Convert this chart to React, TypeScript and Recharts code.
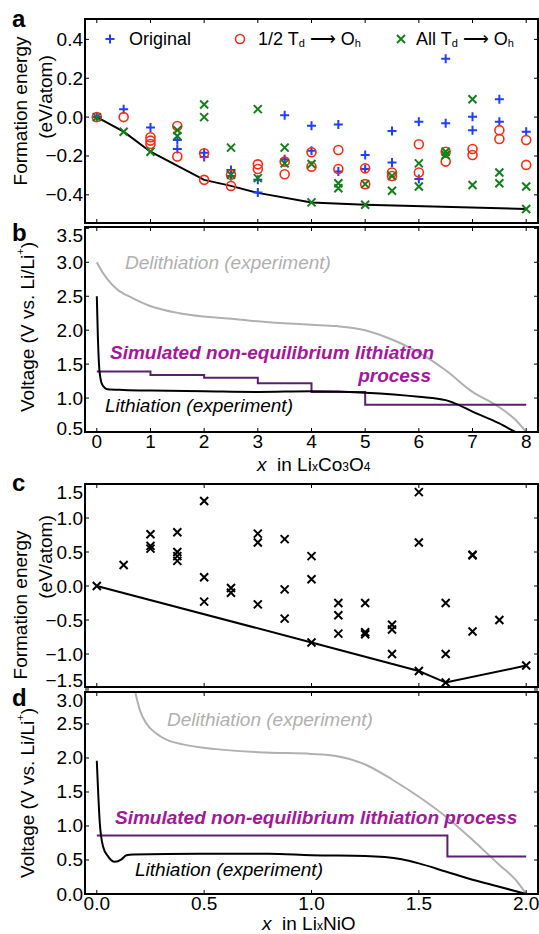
import { ComposedChart, Line, Scatter, XAxis, YAxis } from 'recharts';

const FONT = '"Liberation Sans", Arial, Helvetica, sans-serif';
const W = 539;
const PLOT_L = 85;
const PLOT_R = 538;
const PAD_T = 12;
const FS = 19;

const BLUE = '#1f3fff';
const RED = '#ff2a10';
const GREEN = '#12801a';
const GRAY = '#b0b0b0';
const PURPLE_LINE = '#5c1f6e';
const PURPLE_TEXT = '#a3179c';

// ---- panel a: formation energy vs x in LixCo3O4 ----
const CO_X = [0, 0.5, 1, 1.5, 2, 2.5, 3, 3.5, 4, 4.5, 5, 5.5, 6, 6.5, 7, 7.5, 8];
const ORIGINAL = [
  [0], [0.04], [-0.053], [-0.118, -0.164], [-0.183, -0.205], [-0.272, -0.303],
  [-0.323, -0.388], [0.01, -0.217], [-0.044, -0.173], [-0.038, -0.28], [-0.195, -0.267],
  [-0.072, -0.234], [-0.024, -0.318], [0.301, -0.032], [0.002, -0.067], [0.092, -0.024], [-0.075],
];
const HALF_TD_OH = [
  [0], [0.0], [-0.104, -0.121, -0.138], [-0.046, -0.203], [-0.186, -0.323], [-0.297, -0.354],
  [-0.243, -0.267], [-0.229, -0.294], [-0.181, -0.255], [-0.169, -0.267], [-0.263, -0.345],
  [-0.285, -0.303], [-0.14, -0.285], [-0.178, -0.229], [-0.164, -0.195], [-0.067, -0.113], [-0.118, -0.246],
];
const ALL_TD_OH = [
  [0], [-0.075], [-0.178], [-0.067, -0.097], [0.065, 0.0], [-0.157, -0.297],
  [0.041, -0.314], [-0.157, -0.238], [-0.241, -0.439], [-0.34, -0.366], [-0.345, -0.451],
  [-0.303, -0.379], [-0.238, -0.357], [-0.178, -0.195], [0.092, -0.349], [-0.285, -0.34], [-0.357, -0.473],
];
const HULL_A_X = [0, 0.5, 1, 2, 2.5, 3, 4, 5, 8];
const HULL_A_Y = [0, -0.075, -0.178, -0.323, -0.354, -0.39, -0.439, -0.451, -0.473];

// ---- panel b: voltage profiles, LixCo3O4 ----
const DELITH_B_X = [0, 0.1, 0.2, 0.365, 0.675, 0.98, 1.54, 2.0, 2.6, 3.15, 4.0, 4.46, 5.0, 5.38, 6.0, 6.5, 7.0, 7.43, 7.8, 8.0];
const DELITH_B_Y = [3.0, 2.86, 2.75, 2.61, 2.47, 2.36, 2.25, 2.2, 2.16, 2.12, 2.08, 2.06, 2.0, 1.9, 1.67, 1.41, 1.09, 0.9, 0.68, 0.5];
const LITH_B_X = [0, 0.02, 0.05, 0.1, 0.2, 0.5, 1, 2, 3, 4, 5, 6, 6.5, 6.65, 7, 7.49, 7.8, 7.9];
const LITH_B_Y = [2.5, 1.9, 1.4, 1.2, 1.13, 1.12, 1.11, 1.1, 1.09, 1.1, 1.08, 1.02, 0.97, 0.93, 0.8, 0.63, 0.5, 0.46];
const SIM_B_X = [0, 1, 2, 3, 4, 5, 8];
const SIM_B_Y = [1.39, 1.34, 1.3, 1.22, 1.09, 0.9, 0.9];

// ---- panel c: formation energy vs x in LixNiO ----
const NI_X = [0, 0.125, 0.25, 0.375, 0.5, 0.625, 0.75, 0.875, 1, 1.125, 1.25, 1.375, 1.5, 1.625, 1.75, 1.875, 2];
const NI_E = [
  [0], [0.31], [0.76, 0.59, 0.55], [0.79, 0.5, 0.44, 0.37], [1.25, 0.13, -0.23], [-0.03, -0.1],
  [0.77, 0.64, -0.27], [0.69, -0.05, -0.48], [0.44, 0.1, -0.83], [-0.25, -0.43, -0.7],
  [-0.25, -0.68, -0.71], [-0.57, -0.64, -1.0], [1.38, 0.64, -1.25], [-0.25, -1.0, -1.42],
  [0.46, 0.45, -0.67], [-0.5], [-1.17],
];
const HULL_C_X = [0, 1, 1.5, 1.625, 2];
const HULL_C_Y = [0, -0.83, -1.25, -1.42, -1.17];

// ---- panel d: voltage profiles, LixNiO ----
const DELITH_D_X = [0.165, 0.177, 0.2, 0.23, 0.277, 0.324, 0.4, 0.556, 0.789, 1.0, 1.114, 1.253, 1.377, 1.5, 1.625, 1.752, 1.874, 1.95, 2.0];
const DELITH_D_Y = [3.2, 3.0, 2.71, 2.51, 2.36, 2.27, 2.2, 2.13, 2.08, 2.06, 2.03, 1.9, 1.68, 1.43, 1.14, 0.79, 0.43, 0.21, 0.0];
const LITH_D_X = [0, 0.014, 0.029, 0.053, 0.084, 0.115, 0.138, 0.169, 0.479, 0.8, 1.0, 1.25, 1.42, 1.5, 1.625, 1.75, 1.87, 2.0];
const LITH_D_Y = [1.96, 1.04, 0.7, 0.55, 0.475, 0.51, 0.57, 0.58, 0.59, 0.59, 0.57, 0.56, 0.51, 0.45, 0.33, 0.21, 0.11, 0.0];
const SIM_D_X = [0, 1.633, 2];
const SIM_D_Y = [0.86, 0.55, 0.55];

// ticks
const CO_TICKS = [0, 1, 2, 3, 4, 5, 6, 7, 8];
const NI_TICKS = [0, 0.5, 1, 1.5, 2];
const A_YTICKS = [-0.4, -0.2, 0, 0.2, 0.4];
const B_YTICKS = [0.5, 1, 1.5, 2, 2.5, 3, 3.5];
const C_YTICKS = [-1.5, -1, -0.5, 0, 0.5, 1, 1.5];
const D_YTICKS = [0, 0.5, 1, 1.5, 2, 2.5, 3];

const pts = (xs: number[], groups: number[][]) => xs.flatMap((x, i) => groups[i].map((y) => ({ x, y })));
const series = (xs: number[], ys: number[]) => xs.map((x, i) => ({ x, y: ys[i] }));
const fmt1 = (v: number) => v.toFixed(1).replace('-', '\u2212');
const fmt0 = (v: number) => String(v);

const plusShape = (color: string) => (p: any) => (
  <path d={`M${p.cx - 4.5},${p.cy}h9M${p.cx},${p.cy - 4.5}v9`} stroke={color} strokeWidth={2} fill="none" />
);
const circleShape = (color: string) => (p: any) => (
  <circle cx={p.cx} cy={p.cy} r={4.5} stroke={color} strokeWidth={1.6} fill="none" />
);
const crossShape = (color: string) => (p: any) => (
  <path d={`M${p.cx - 4},${p.cy - 4}l8,8M${p.cx - 4},${p.cy + 4}l8,-8`} stroke={color} strokeWidth={2} fill="none" />
);

type PanelProps = {
  top: number; plotH: number; padB: number; lowShift: number;
  xDomain: number[]; xTicks: number[]; xFmt?: (v: number) => string;
  yDomain: number[]; yTicks: number[];
  children: any;
};

function Panel({ top, plotH, padB, lowShift, xDomain, xTicks, xFmt, yDomain, yTicks, children }: PanelProps) {
  const plotTop = PAD_T;
  const plotBot = PAD_T + plotH;
  const xTick = (p: any) => (
    <g>
      <line x1={p.x} x2={p.x} y1={plotBot} y2={plotBot - 4} stroke="#000" />
      <line x1={p.x} x2={p.x} y1={plotTop} y2={plotTop + 4} stroke="#000" />
      {xFmt && (
        <text x={p.x} y={plotBot + 16} textAnchor="middle" fontSize={FS} fontFamily={FONT} fill="#000">
          {xFmt(p.payload.value)}
        </text>
      )}
    </g>
  );
  const yTick = (p: any) => {
    const ty = Math.min(Math.max(p.y, plotTop + 8), plotBot - lowShift);
    return (
      <g>
        <line x1={PLOT_L} x2={PLOT_L + 4} y1={p.y} y2={p.y} stroke="#000" />
        <line x1={PLOT_R - 4} x2={PLOT_R} y1={p.y} y2={p.y} stroke="#000" />
        <text x={PLOT_L - 2} y={ty} textAnchor="end" dominantBaseline="central" fontSize={FS} fontFamily={FONT} fill="#000">
          {fmt1(p.payload.value)}
        </text>
      </g>
    );
  };
  return (
    <div style={{ position: 'absolute', left: 0, top: top - PAD_T }}>
      <ComposedChart width={W} height={PAD_T + plotH + padB} margin={{ top: PAD_T, right: W - PLOT_R, bottom: 0, left: 0 }}>
        <XAxis type="number" dataKey="x" domain={xDomain} ticks={xTicks} interval={0} allowDataOverflow
          height={padB} axisLine={false} tickLine={false} tick={xTick} />
        <YAxis type="number" dataKey="y" domain={yDomain} ticks={yTicks} interval={0} allowDataOverflow
          width={PLOT_L} axisLine={false} tickLine={false} tick={yTick} />
        {children}
      </ComposedChart>
    </div>
  );
}

const frames = [
  { top: 19, h: 204 },
  { top: 227, h: 205 },
  { top: 484, h: 203 },
  { top: 692, h: 202 },
];

function VoltageLabel({ cx, cy }: { cx: number; cy: number }) {
  return (
    <text transform={`translate(${cx},${cy}) rotate(-90)`} textAnchor="middle" dominantBaseline="central" fontSize={FS}>
      Voltage (V vs. Li/Li<tspan fontSize={11} dy={-7}>+</tspan><tspan dy={7}>)</tspan>
    </text>
  );
}

function Overlay() {
  return (
    <svg width={W} height={934} style={{ position: 'absolute', left: 0, top: 0, pointerEvents: 'none' }} fontFamily={FONT}>
      {frames.map((f) => (
        <rect key={f.top} x={PLOT_L} y={f.top} width={PLOT_R - PLOT_L} height={f.h} fill="none" stroke="#000" strokeWidth={2} />
      ))}
      {/* panel letters */}
      <g fontSize={24} fontWeight="bold">
        <text x={12} y={27}>a</text>
        <text x={12} y={241}>b</text>
        <text x={12} y={491}>c</text>
        <text x={12} y={706}>d</text>
      </g>
      {/* y labels */}
      <text transform="translate(20,111) rotate(-90)" textAnchor="middle" dominantBaseline="central" fontSize={FS}>Formation energy</text>
      <text transform="translate(45,97) rotate(-90)" textAnchor="middle" dominantBaseline="central" fontSize={FS}>(eV/atom)</text>
      <VoltageLabel cx={27} cy={327} />
      <text transform="translate(20,605) rotate(-90)" textAnchor="middle" dominantBaseline="central" fontSize={FS}>Formation energy</text>
      <text transform="translate(45,557) rotate(-90)" textAnchor="middle" dominantBaseline="central" fontSize={FS}>(eV/atom)</text>
      <VoltageLabel cx={27} cy={793} />
      {/* x labels */}
      <text x={257} y={464} dominantBaseline="central" fontSize={FS}>
        <tspan fontStyle="italic">x</tspan>{'\u00a0\u00a0in Li'}
        <tspan fontSize={12} dy={3}>x</tspan><tspan dy={-3}>Co</tspan>
        <tspan fontSize={12} dy={3}>3</tspan><tspan dy={-3}>O</tspan>
        <tspan fontSize={12} dy={3}>4</tspan>
      </text>
      <text x={262} y={923} dominantBaseline="central" fontSize={FS}>
        <tspan fontStyle="italic">x</tspan>{'\u00a0\u00a0in Li'}
        <tspan fontSize={12} dy={3}>x</tspan><tspan dy={-3}>NiO</tspan>
      </text>
      {/* legend panel a */}
      <g fontSize={18}>
        <path d="M105.5,39h9M110,34.5v9" stroke={BLUE} strokeWidth={2} />
        <text x={129} y={39} dominantBaseline="central">Original</text>
        <circle cx={240} cy={39} r={4.5} stroke={RED} strokeWidth={1.6} fill="none" />
        <text x={258} y={39} dominantBaseline="central">
          1/2 T<tspan fontSize={11} dy={4}>d</tspan><tspan dy={-4}>{' \u27f6 O'}</tspan><tspan fontSize={11} dy={4}>h</tspan>
        </text>
        <path d="M397,35l8,8M397,43l8,-8" stroke={GREEN} strokeWidth={2} />
        <text x={416} y={39} dominantBaseline="central">
          All T<tspan fontSize={11} dy={4}>d</tspan><tspan dy={-4}>{' \u27f6 O'}</tspan><tspan fontSize={11} dy={4}>h</tspan>
        </text>
      </g>
      {/* annotations panel b */}
      <text x={125} y={262} dominantBaseline="central" fontSize={FS} fontStyle="italic" fill={GRAY}>Delithiation (experiment)</text>
      <text x={110} y={352} dominantBaseline="central" fontSize={FS} fontStyle="italic" fontWeight="bold" fill={PURPLE_TEXT}>Simulated non-equilibrium lithiation</text>
      <text x={431} y={375} dominantBaseline="central" textAnchor="end" fontSize={FS} fontStyle="italic" fontWeight="bold" fill={PURPLE_TEXT}>process</text>
      <text x={105} y={405} dominantBaseline="central" fontSize={FS} fontStyle="italic" fill="#000">Lithiation (experiment)</text>
      {/* annotations panel d */}
      <text x={167} y={719} dominantBaseline="central" fontSize={FS} fontStyle="italic" fill={GRAY}>Delithiation (experiment)</text>
      <text x={115} y={817} dominantBaseline="central" fontSize={FS} fontStyle="italic" fontWeight="bold" fill={PURPLE_TEXT}>Simulated non-equilibrium lithiation process</text>
      <text x={135} y={869} dominantBaseline="central" fontSize={FS} fontStyle="italic" fill="#000">Lithiation (experiment)</text>
    </svg>
  );
}

export default function App() {
  const coX = [-0.22, 8.22];
  const niX = [-0.055, 2.055];
  return (
    <div style={{ position: 'absolute', left: 0, top: 0, width: W, height: 934, background: '#fff', fontFamily: FONT }}>
      <Panel top={19} plotH={204} padB={10} lowShift={6} xDomain={coX} xTicks={CO_TICKS} yDomain={[-0.545, 0.505]} yTicks={A_YTICKS}>
        <Line data={series(HULL_A_X, HULL_A_Y)} dataKey="y" type="linear" stroke="#000" strokeWidth={2} dot={false} activeDot={false} isAnimationActive={false} />
        <Scatter data={pts(CO_X, ORIGINAL)} dataKey="y" shape={plusShape(BLUE)} isAnimationActive={false} />
        <Scatter data={pts(CO_X, HALF_TD_OH)} dataKey="y" shape={circleShape(RED)} isAnimationActive={false} />
        <Scatter data={pts(CO_X, ALL_TD_OH)} dataKey="y" shape={crossShape(GREEN)} isAnimationActive={false} />
      </Panel>
      <Panel top={227} plotH={205} padB={26} lowShift={4} xDomain={coX} xTicks={CO_TICKS} xFmt={fmt0} yDomain={[0.5, 3.52]} yTicks={B_YTICKS}>
        <Line data={series(DELITH_B_X, DELITH_B_Y)} dataKey="y" type="monotone" stroke={GRAY} strokeWidth={2} dot={false} activeDot={false} isAnimationActive={false} />
        <Line data={series(SIM_B_X, SIM_B_Y)} dataKey="y" type="stepAfter" stroke={PURPLE_LINE} strokeWidth={2} dot={false} activeDot={false} isAnimationActive={false} />
        <Line data={series(LITH_B_X, LITH_B_Y)} dataKey="y" type="monotone" stroke="#000" strokeWidth={2} dot={false} activeDot={false} isAnimationActive={false} />
      </Panel>
      <Panel top={484} plotH={203} padB={10} lowShift={7} xDomain={niX} xTicks={NI_TICKS} yDomain={[-1.485, 1.5]} yTicks={C_YTICKS}>
        <Line data={series(HULL_C_X, HULL_C_Y)} dataKey="y" type="linear" stroke="#000" strokeWidth={2} dot={false} activeDot={false} isAnimationActive={false} />
        <Scatter data={pts(NI_X, NI_E)} dataKey="y" shape={crossShape('#000')} isAnimationActive={false} />
      </Panel>
      <Panel top={692} plotH={202} padB={26} lowShift={0} xDomain={niX} xTicks={NI_TICKS} xFmt={fmt1} yDomain={[0, 2.97]} yTicks={D_YTICKS}>
        <Line data={series(DELITH_D_X, DELITH_D_Y)} dataKey="y" type="monotone" stroke={GRAY} strokeWidth={2} dot={false} activeDot={false} isAnimationActive={false} />
        <Line data={series(SIM_D_X, SIM_D_Y)} dataKey="y" type="stepAfter" stroke={PURPLE_LINE} strokeWidth={2} dot={false} activeDot={false} isAnimationActive={false} />
        <Line data={series(LITH_D_X, LITH_D_Y)} dataKey="y" type="monotone" stroke="#000" strokeWidth={2} dot={false} activeDot={false} isAnimationActive={false} />
      </Panel>
      <Overlay />
    </div>
  );
}
